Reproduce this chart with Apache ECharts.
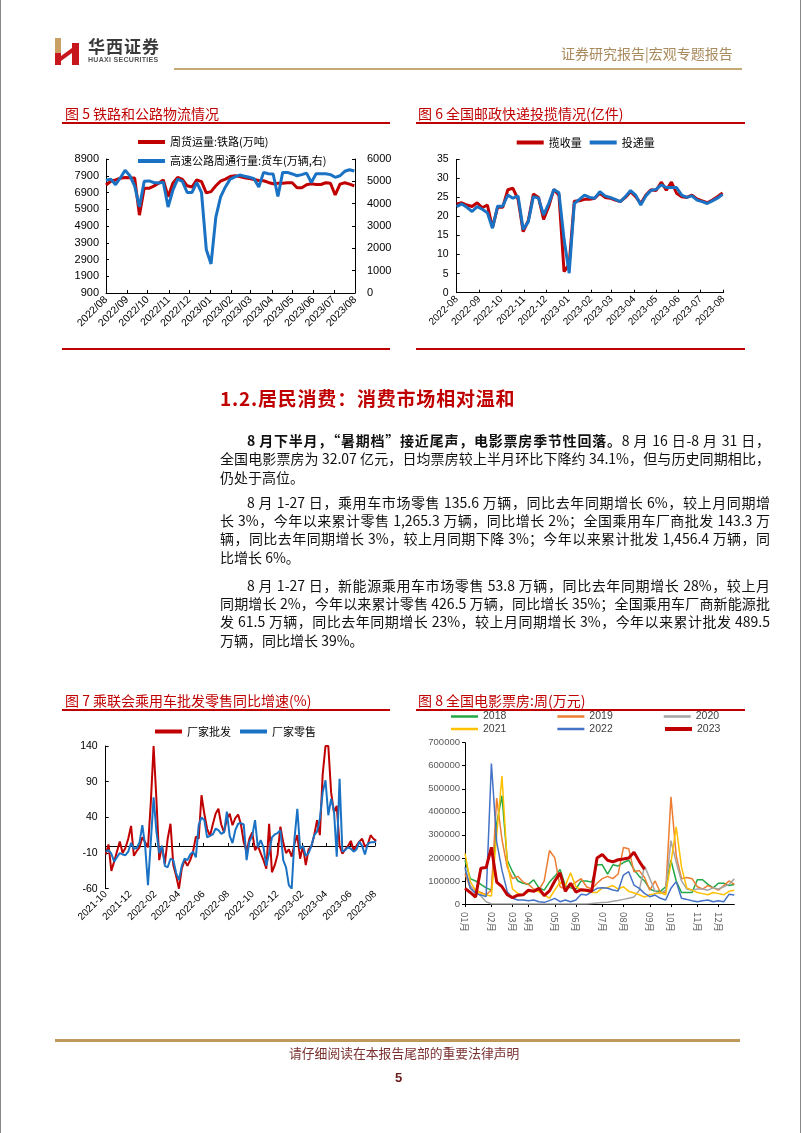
<!DOCTYPE html>
<html><head><meta charset="utf-8">
<script src="https://cdn.jsdelivr.net/npm/echarts@6/dist/echarts.min.js"></script>
<style>
html,body{margin:0;padding:0;background:#fff;}
#page{position:relative;width:802px;height:1133px;overflow:hidden;font-family:"Noto Sans CJK SC",sans-serif;background:#fff;}
#chart{position:absolute;left:0;top:0;width:802px;height:1133px;}
.t{position:absolute;white-space:nowrap;}
.rule{position:absolute;background:#c00000;height:2px;}
.ttl{position:absolute;white-space:nowrap;font-size:14px;line-height:16px;color:#c00000;}
.ln{position:absolute;left:220px;width:550px;font-size:14px;line-height:18px;color:#111;text-align:justify;text-align-last:justify;}
.ind{left:247px;width:523px;}
.last{text-align-last:left;}
</style></head>
<body><div id="page">
<div id="chart"></div>
<div style="position:absolute;left:0;top:0;width:1px;height:1133px;background:#888"></div>
<div style="position:absolute;left:800px;top:0;width:1px;height:1133px;background:#888"></div>

<svg style="position:absolute;left:53px;top:37px" width="28" height="29" viewBox="0 0 28 29">
<rect x="2" y="1" width="6" height="15" fill="#c9a063"/>
<rect x="2" y="16" width="6" height="12" fill="#c8161d"/>
<polygon points="8,19 19,11 19,16 8,24" fill="#c8161d"/>
<rect x="19" y="6" width="7" height="22" fill="#c8161d"/>
</svg>
<div class="t" style="left:88px;top:37px;font-size:17px;line-height:18px;font-weight:bold;color:#3a3a3a;letter-spacing:1px">华西证券</div>
<div class="t" style="left:88px;top:56px;font-size:7px;line-height:8px;font-weight:600;color:#555;font-family:'Liberation Sans',Arial,sans-serif;letter-spacing:0.3px">HUAXI SECURITIES</div>
<div class="t" style="left:561px;top:45px;font-size:14px;line-height:16px;color:#a88a5c">证券研究报告|宏观专题报告</div>
<div style="position:absolute;left:174px;top:68px;width:568px;height:2px;background:#c6a873"></div>

<div class="ttl" style="left:65px;top:105px">图 5 铁路和公路物流情况</div>
<div class="rule" style="left:62px;top:122px;width:328px"></div>
<div class="rule" style="left:62px;top:347.5px;width:328px"></div>
<div class="ttl" style="left:418px;top:105px">图 6 全国邮政快递投揽情况(亿件)</div>
<div class="rule" style="left:416px;top:122px;width:329px"></div>
<div class="rule" style="left:416px;top:347.5px;width:329px"></div>

<div class="t" style="left:220px;top:386px;font-size:19px;line-height:24px;font-weight:bold;color:#c00000;letter-spacing:0.8px">1.2.居民消费：消费市场相对温和</div>

<div class="ln ind" style="top:431px"><b>8 月下半月，“暑期档”接近尾声，电影票房季节性回落。</b>8 月 16 日-8 月 31 日，</div>
<div class="ln" style="top:449.3px">全国电影票房为 32.07 亿元，日均票房较上半月环比下降约 34.1%，但与历史同期相比，</div>
<div class="ln last" style="top:467.6px">仍处于高位。</div>

<div class="ln ind" style="top:492.6px">8 月 1-27 日，乘用车市场零售 135.6 万辆，同比去年同期增长 6%，较上月同期增</div>
<div class="ln" style="top:510.9px">长 3%，今年以来累计零售 1,265.3 万辆，同比增长 2%；全国乘用车厂商批发 143.3 万</div>
<div class="ln" style="top:529.2px">辆，同比去年同期增长 3%，较上月同期下降 3%；今年以来累计批发 1,456.4 万辆，同</div>
<div class="ln last" style="top:547.5px">比增长 6%。</div>

<div class="ln ind" style="top:575.8px">8 月 1-27 日，新能源乘用车市场零售 53.8 万辆，同比去年同期增长 28%，较上月</div>
<div class="ln" style="top:594.1px">同期增长 2%，今年以来累计零售 426.5 万辆，同比增长 35%；全国乘用车厂商新能源批</div>
<div class="ln" style="top:612.4px">发 61.5 万辆，同比去年同期增长 23%，较上月同期增长 3%，今年以来累计批发 489.5</div>
<div class="ln last" style="top:630.7px">万辆，同比增长 39%。</div>

<div class="ttl" style="left:65px;top:692px">图 7 乘联会乘用车批发零售同比增速(%)</div>
<div class="rule" style="left:62px;top:708.5px;width:328px"></div>
<div class="ttl" style="left:418px;top:692px">图 8 全国电影票房:周(万元)</div>
<div class="rule" style="left:416px;top:708.5px;width:329px"></div>

<div style="position:absolute;left:55px;top:1038.5px;width:685px;height:3px;background:#c09a5c"></div>
<div class="t" style="left:289px;top:1045px;font-size:12.8px;line-height:16px;color:#7a2f2f">请仔细阅读在本报告尾部的重要法律声明</div>
<div class="t" style="left:395px;top:1070px;font-size:13px;line-height:16px;font-weight:bold;color:#6b1a1a;font-family:'Liberation Sans',Arial,sans-serif">5</div>
</div>
<script>
const CN = '"Noto Sans CJK SC", sans-serif';
const NUM = '"Liberation Sans", Arial, sans-serif';
const RED = '#c00000', BLUE = '#1a72c4';

// ---------- 图5 铁路和公路物流 (weekly from 2022-08-01)
const fig5Start = [2022, 8, 1];
const fig5Ticks = ['2022/08','2022/09','2022/10','2022/11','2022/12','2023/01','2023/02','2023/03','2023/04','2023/05','2023/06','2023/07','2023/08'];
const railway = [7350,7570,7650,7750,7800,7780,7770,5550,7150,7150,
  7280,7450,7650,6650,7450,7800,7680,7300,7230,7650,
  7550,6880,6950,7300,7580,7700,7850,7900,7850,7780,
  7730,7680,7620,7600,7500,7420,7450,7450,7480,7480,
  7180,7180,7360,7420,7380,7380,7480,7450,6750,7400,
  7480,7400,7300];
const truck = [5050,5100,4850,5150,5500,5250,4800,3850,5000,5020,
  4950,4930,4960,3850,4600,5100,5000,4500,4500,4950,
  4500,1950,1300,3400,4300,4750,5100,5200,5280,5230,
  5180,5120,4750,5400,5340,5330,4320,5400,5400,5330,
  5250,5300,5370,4950,5340,5340,5340,5300,5180,5250,
  5450,5520,5460];

// ---------- 图6 快递揽投 (weekly from 2022-08-01)
const fig6Start = [2022, 8, 1];
const fig6Ticks = ['2022-08','2022-09','2022-10','2022-11','2022-12','2023-01','2023-02','2023-03','2023-04','2023-05','2023-06','2023-07','2023-08'];
const collect = [23.3,23.6,23.0,22.6,23.6,22.3,23.0,17.1,22.4,22.4,
  27.0,27.4,24.5,16.0,18.9,25.9,25.0,19.2,22.6,27.1,
  25.6,5.5,7.5,24.0,24.1,24.5,24.5,24.8,26.1,25.0,
  24.8,24.3,23.9,25.0,26.5,25.2,23.4,25.6,27.0,26.8,
  29.0,26.9,29.0,26.1,25.2,25.0,25.6,24.6,24.1,23.6,
  24.3,25.2,26.2];
const deliver = [22.6,23.3,22.4,21.3,22.6,21.9,21.0,16.9,22.7,22.7,
  25.6,24.8,25.4,16.6,18.6,25.2,24.8,20.4,23.4,27.1,
  26.2,14.0,5.1,23.4,24.5,25.6,25.0,24.8,26.5,25.4,
  25.0,24.5,23.9,25.2,26.8,25.6,23.0,25.4,26.8,27.1,
  28.3,27.6,27.6,27.6,25.6,25.0,25.4,24.3,23.9,23.4,
  24.1,24.8,25.8];

// ---------- 图7 乘联会批发零售同比 (weekly from 2021-10-01)
const fig7Start = [2021, 10, 1];
const fig7Ticks = ['2021-10','2021-12','2022-02','2022-04','2022-06','2022-08','2022-10','2022-12','2023-02','2023-04','2023-06','2023-08'];
const wholesale = [-12,2,-35,-22,-8,6,-10,-3,10,28,
  -14,-7,-2,12,5,-2,60,140,65,-20,
  0,-25,10,31,-27,-42,-60,-32,-20,-28,
  -20,-8,13,10,71,45,24,14,30,45,
  52,30,19,38,45,29,39,44,30,5,
  -8,10,19,-6,0,-10,-20,-32,31,-37,
  -27,-12,27,5,-10,-5,-15,3,15,-18,
  0,-27,-5,-1,15,36,15,100,140,140,
  75,47,56,0,-11,-5,0,7,-6,0,
  6,10,-1,2,15,10,7];
const retail = [-8,-6,-11,-22,-16,-10,-12,-13,-8,4,
  -4,-3,5,29,0,-55,5,68,20,-10,
  0,-28,-30,-18,-20,-38,-48,-28,-18,-20,
  -12,-8,-16,29,40,36,12,14,16,24,
  22,17,19,48,14,4,22,31,32,30,
  -20,6,14,36,-2,8,-2,-28,-10,12,
  16,18,22,-20,-30,-55,-60,10,52,-4,
  0,-14,-10,0,15,20,38,75,92,43,
  66,50,-15,94,-8,-6,-2,-4,-8,-5,
  6,0,-12,3,5,5,6];

// ---------- 图8 全国电影票房:周 (万元), 52 weeks
const monthLabels = ['01月','02月','03月','04月','05月','06月','07月','08月','09月','10月','11月','12月'];
const monthStartWeek = [0,5,9,12,17,21,26,30,35,39,44,48];
const y2018 = [190000,110000,100000,85000,70000,60000,350000,470000,190000,140000,
  100000,90000,85000,105000,70000,60000,95000,120000,150000,80000,
  70000,65000,100000,100000,95000,170000,170000,130000,170000,165000,
  180000,190000,150000,120000,100000,65000,55000,55000,75000,190000,
  100000,50000,50000,50000,105000,105000,85000,70000,90000,90000,
  80000,85000];
const y2019 = [130000,70000,60000,50000,40000,60000,460000,280000,160000,110000,
  120000,95000,85000,65000,60000,100000,232000,200000,75000,65000,
  80000,95000,110000,75000,65000,90000,110000,120000,110000,130000,
  245000,240000,140000,145000,115000,60000,100000,50000,50000,465000,
  210000,110000,115000,110000,75000,65000,80000,70000,60000,80000,
  100000,85000];
const y2020 = [150000,80000,50000,35000,10000,0,0,0,0,0,
  0,0,0,0,0,0,0,0,0,0,
  0,0,0,0,2000,4000,6000,8000,12000,15000,
  20000,25000,30000,60000,165000,110000,55000,45000,60000,275000,
  180000,100000,65000,60000,65000,65000,60000,70000,65000,75000,
  85000,110000];
const y2021 = [220000,97000,60000,46000,39000,35000,300000,555000,180000,65000,
  46000,39000,53000,60000,53000,40000,25000,60000,95000,80000,
  135000,75000,60000,55000,50000,50000,70000,72000,80000,65000,
  75000,55000,48000,40000,30000,40000,45000,50000,40000,180000,
  335000,160000,70000,60000,50000,45000,40000,50000,45000,40000,
  55000,60000];
const y2022 = [160000,68000,46000,39000,32000,610000,270000,147000,53500,24600,
  17400,17400,14500,17400,10000,7200,14500,24600,10000,17400,
  10000,17400,42000,39000,53500,68000,71000,68000,60700,56400,
  125800,140300,82400,68000,46300,31800,39000,24600,17400,68000,
  97000,24600,20000,14500,10000,14500,17400,10000,14500,10000,
  42000,39000];
const y2023 = [68000,50000,30000,155000,158000,246000,95000,75000,40000,28000,
  38000,40000,60000,55000,68000,36000,57000,100000,135000,55000,
  90000,52000,62000,60000,55000,200000,215000,190000,183000,192000,
  195000,200000,225000,185000,150000];

// ---------- helpers (x positions = days since the first tick month)
const DAY = 86400000;
function monthTs(label){ const p = label.split(/[\/-]/); return Date.UTC(+p[0], +p[1]-1, 1); }
function weeks(start, n){ const out=[]; for(let i=0;i<n;i++) out.push(Date.UTC(start[0], start[1]-1, start[2]+7*i)); return out; }
function dayAxis(labels){ const o = monthTs(labels[0]); return labels.map(l => (monthTs(l)-o)/DAY); }
function dayPairs(labels, start, ys){ const o = monthTs(labels[0]); const w = weeks(start, ys.length); return ys.map((v,i)=>[(w[i]-o)/DAY, v]); }
function nearestLabel(labels, vals, v){ let b=0; for(let i=1;i<vals.length;i++) if(Math.abs(vals[i]-v)<Math.abs(vals[b]-v)) b=i; return labels[b]; }

const d5 = dayAxis(fig5Ticks), d6 = dayAxis(fig6Ticks), d7 = dayAxis(fig7Ticks);
const weeks8 = Array.from({length: y2018.length}, (_, i) => '第' + (i+1) + '周');

const noSplit = {show:false};
function dayX(gridIndex, labels, vals, fs){
  return {
    type:'value', gridIndex, min: vals[0], max: vals[vals.length-1],
    axisLine:{show:true, onZero:false, lineStyle:{color:'#000', width:1}},
    axisTick:{show:true, inside:true, length:3, customValues: vals, lineStyle:{color:'#000'}},
    axisLabel:{customValues: vals, rotate:45, fontSize:fs, color:'#000', fontFamily:NUM, margin:5,
      formatter: v => nearestLabel(labels, vals, v)},
    splitLine: noSplit
  };
}
function valY(gridIndex, min, max, interval, fs, margin, position){
  return {
    type:'value', gridIndex, min, max, interval, position: position || 'left',
    axisLine:{show:true, lineStyle:{color:'#000', width:1}},
    axisTick:{show:true, inside:true, length:3, lineStyle:{color:'#000'}},
    axisLabel:{fontSize:fs, color:'#000', fontFamily:NUM, margin, formatter: v => String(v)},
    splitLine: noSplit
  };
}
function line(name, color, width, xi, yi, data, z){
  return {name, type:'line', xAxisIndex:xi, yAxisIndex:yi, data, symbol:'none', showSymbol:false,
    lineStyle:{color, width}, itemStyle:{color}, z: z||2, animation:false};
}

const legText = {fontSize:11, color:'#000', fontFamily:CN};
const legText8 = {fontSize:10.5, color:'#404040', fontFamily:NUM};

const option = {
  animation:false,
  grid:[
    {left:106, top:159, width:249, height:134},
    {left:456.7, top:159.3, width:266.6, height:133.4},
    {left:105.7, top:746, width:269.3, height:142.7},
    {left:465, top:742.7, width:269.3, height:161.3}
  ],
  legend:[
    {left:138, top:136.5, padding:0, orient:'vertical', icon:'rect', itemWidth:27, itemHeight:4, itemGap:8,
      data:['周货运量:铁路(万吨)','高速公路周通行量:货车(万辆,右)'], textStyle:legText},
    {left:516.7, top:137, padding:0, orient:'horizontal', icon:'rect', itemWidth:27, itemHeight:4, itemGap:8,
      data:['揽收量','投递量'], textStyle:legText},
    {left:155, top:726, padding:0, orient:'horizontal', icon:'rect', itemWidth:27, itemHeight:4, itemGap:9,
      data:['厂家批发','厂家零售'], textStyle:legText},
    {left:451, top:711, padding:0, orient:'horizontal', icon:'rect', itemWidth:27, itemHeight:2.5, itemGap:51,
      data:['2018','2019','2020'], textStyle:legText8},
    {left:451, top:723.5, padding:0, orient:'horizontal', icon:'rect', itemWidth:27, itemHeight:2.5, itemGap:51,
      data:['2021','2022'], textStyle:legText8},
    {left:665, top:723.5, padding:0, orient:'horizontal', icon:'rect', itemWidth:27, itemHeight:4,
      data:['2023'], textStyle:legText8}
  ],
  xAxis:[
    dayX(0, fig5Ticks, d5, 10.5),
    dayX(1, fig6Ticks, d6, 10),
    {type:'value', gridIndex:2, min:d7[0], max:d7[d7.length-1], position:'bottom',
      axisLine:{show:false, onZero:false}, axisTick:{show:false},
      axisLabel:{customValues:d7, rotate:45, fontSize:10, color:'#000', fontFamily:NUM, margin:4,
        formatter: v => nearestLabel(fig7Ticks, d7, v)},
      splitLine:noSplit},
    {type:'value', gridIndex:2, min:d7[0], max:d7[d7.length-1], position:'bottom',
      axisLine:{show:true, onZero:true, lineStyle:{color:'#000', width:1}},
      axisTick:{show:true, inside:true, length:3, customValues:d7, lineStyle:{color:'#000'}},
      axisLabel:{show:false}, splitLine:noSplit},
    {type:'category', gridIndex:3, data:weeks8, boundaryGap:false,
      axisLine:{show:true, lineStyle:{color:'#000', width:1}},
      axisTick:{show:true, length:3, interval:(i)=>monthStartWeek.indexOf(i)>=0, lineStyle:{color:'#000'}},
      axisLabel:{interval:(i)=>monthStartWeek.indexOf(i)>=0, rotate:-90, fontSize:9.5, color:'#595959', fontFamily:CN, margin:8,
        formatter:(v,i)=>monthLabels[monthStartWeek.indexOf(i)]},
      splitLine:noSplit}
  ],
  yAxis:[
    valY(0, 900, 8900, 1000, 11, 7, 'left'),
    valY(0, 0, 6000, 1000, 11, 12, 'right'),
    valY(1, 0, 35, 5, 10.5, 8, 'left'),
    valY(2, -60, 140, 50, 10.5, 8, 'left'),
    {type:'value', gridIndex:3, min:0, max:700000, interval:100000,
      axisLine:{show:true, lineStyle:{color:'#000', width:1}},
      axisTick:{show:true, length:3, lineStyle:{color:'#000'}},
      axisLabel:{fontSize:9.5, color:'#595959', fontFamily:NUM, margin:5, formatter:v=>String(v)},
      splitLine:noSplit}
  ],
  series:[
    line('周货运量:铁路(万吨)', RED, 3, 0, 0, dayPairs(fig5Ticks, fig5Start, railway), 2),
    line('高速公路周通行量:货车(万辆,右)', BLUE, 3, 0, 1, dayPairs(fig5Ticks, fig5Start, truck), 3),
    line('揽收量', RED, 3, 1, 2, dayPairs(fig6Ticks, fig6Start, collect), 2),
    line('投递量', BLUE, 3, 1, 2, dayPairs(fig6Ticks, fig6Start, deliver), 3),
    line('厂家批发', RED, 2, 2, 3, dayPairs(fig7Ticks, fig7Start, wholesale), 2),
    line('厂家零售', BLUE, 2, 2, 3, dayPairs(fig7Ticks, fig7Start, retail), 3),
    line('2018', '#22a845', 1.5, 4, 4, y2018, 2),
    line('2019', '#ed7d31', 1.5, 4, 4, y2019, 2),
    line('2020', '#a5a5a5', 1.5, 4, 4, y2020, 2),
    line('2021', '#ffc000', 1.5, 4, 4, y2021, 2),
    line('2022', '#4472c4', 1.5, 4, 4, y2022, 2),
    line('2023', '#c00000', 3, 4, 4, y2023, 4)
  ]
};
const chart = echarts.init(document.getElementById('chart'));
chart.setOption(option);
</script>
</body></html>
